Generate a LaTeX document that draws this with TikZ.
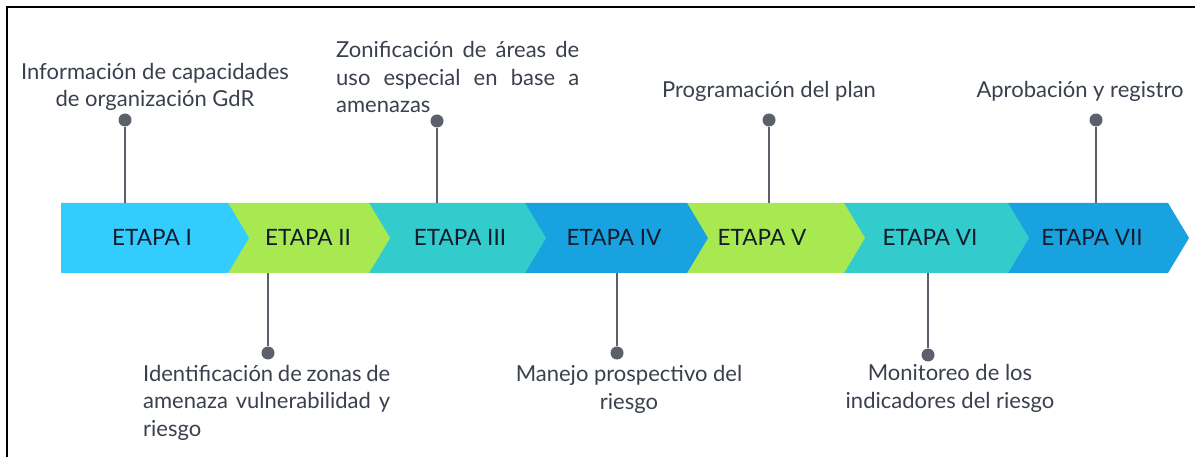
\documentclass[tikz,border=0pt]{standalone}
\usepackage{fontspec}
\setmainfont{Lato}
\definecolor{cA}{RGB}{51,204,255}
\definecolor{cG}{RGB}{168,233,82}
\definecolor{cT}{RGB}{51,204,204}
\definecolor{cB}{RGB}{24,163,224}
\definecolor{txt}{RGB}{58,64,78}
\definecolor{etxt}{RGB}{20,28,44}
\definecolor{conn}{RGB}{92,96,106}
\begin{document}
\begin{tikzpicture}[x=1pt,y=-1pt,
  stagebox/.style={anchor=base,inner sep=0pt,text=etxt,font=\fontsize{22.5}{26}\selectfont},
  lbl/.style={inner sep=0pt,text=txt,font=\fontsize{22}{27.5}\selectfont},
  dotnode/.style={circle,fill=conn,minimum size=13pt,inner sep=0pt},
  connline/.style={draw=conn,line width=2pt},
  frameline/.style={draw=black,line width=2pt}]
\useasboundingbox (0,0) rectangle (1195,457);
\fill[white] (0,0) rectangle (1195,457);
\draw[frameline] (6.5,457) -- (6.5,7) -- (1195,7);
% chevrons, drawn from last to first
\def\chev#1#2#3{\fill[#3] (#1,203) -- (#2,203) -- ++(21,35) -- (#2,273) -- (#1,273) -- cycle;}
\chev{1008}{1168}{cB}
\chev{844}{1008}{cT}
\chev{687}{844}{cG}
\chev{525}{687}{cB}
\chev{369}{525}{cT}
\chev{228}{369}{cG}
\chev{61}{228}{cA}
% stage labels
\node[stagebox] (e1) at (152,246) {ETAPA I};
\node[stagebox] (e2) at (308,246) {ETAPA II};
\node[stagebox] (e3) at (460,246) {ETAPA III};
\node[stagebox] (e4) at (614,246) {ETAPA IV};
\node[stagebox] (e5) at (762,246) {ETAPA V};
\node[stagebox] (e6) at (930,246) {ETAPA VI};
\node[stagebox] (e7) at (1092,246) {ETAPA VII};
% attachment points on the band
\coordinate (b1) at (125,203);
\coordinate (b2) at (268,273);
\coordinate (b3) at (437,203);
\coordinate (b4) at (617,273);
\coordinate (b5) at (769,203);
\coordinate (b6) at (928,273);
\coordinate (b7) at (1096,203);
% dots
\node[dotnode] (d1) at (125,120) {};
\node[dotnode] (d2) at (268,353) {};
\node[dotnode] (d3) at (437,121) {};
\node[dotnode] (d4) at (617,353) {};
\node[dotnode] (d5) at (769,120) {};
\node[dotnode] (d6) at (928,355) {};
\node[dotnode] (d7) at (1096,120) {};
\draw[connline] (d1) -- (b1);
\draw[connline] (d2) -- (b2);
\draw[connline] (d3) -- (b3);
\draw[connline] (d4) -- (b4);
\draw[connline] (d5) -- (b5);
\draw[connline] (d6) -- (b6);
\draw[connline] (d7) -- (b7);
% labels (base anchor = baseline of last line)
\node[lbl,align=center,anchor=base] (l1) at (155,107) {Información de capacidades\\de organización GdR};
\node[lbl,align=left,anchor=base west] (l3) at (336,113) {\makebox[243pt][s]{Zonificación de áreas de}\\\makebox[243pt][s]{uso especial en base a}\\amenazas};
\node[lbl,anchor=base] (l5) at (769,98) {Programación del plan};
\node[lbl,anchor=base] (l7) at (1080,98) {Aprobación y registro};
\node[lbl,align=left,anchor=base west] (l2) at (143,436) {\makebox[247pt][s]{Identificación de zonas de}\\\makebox[247pt][s]{amenaza vulnerabilidad y}\\riesgo};
\node[lbl,align=center,anchor=base] (l4) at (629,409) {Manejo prospectivo del\\riesgo};
\node[lbl,align=center,anchor=base] (l6) at (950,408) {Monitoreo de los\\indicadores del riesgo};
\end{tikzpicture}
\end{document}
